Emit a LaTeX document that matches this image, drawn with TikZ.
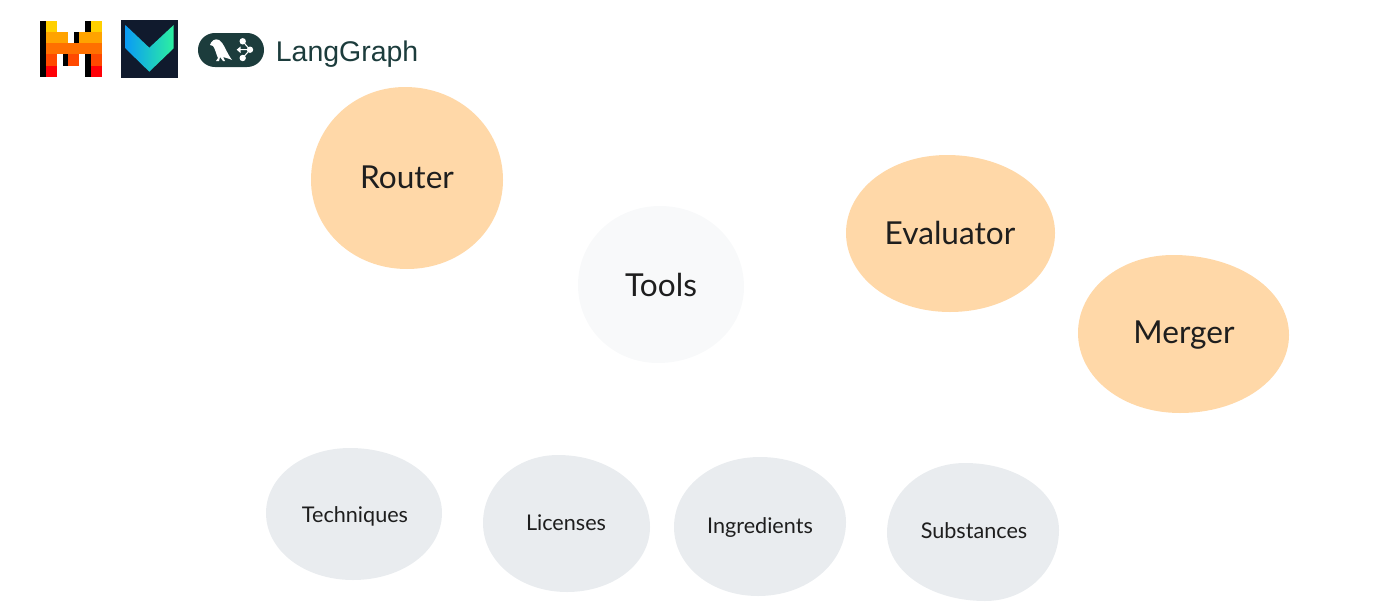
\documentclass[tikz,border=0pt]{standalone}
\usepackage{fontspec}
\setmainfont{Lato}
\newfontfamily\logofont{Liberation Sans}
\usetikzlibrary{calc}
\definecolor{peachFill}{HTML}{FFD8A8}
\definecolor{greyFill}{HTML}{E9ECEF}
\definecolor{toolFill}{HTML}{F8F9FA}
\definecolor{inkText}{HTML}{1E1E1E}
\definecolor{badgeGreen}{HTML}{1C3C3C}
\definecolor{vNavy}{HTML}{101A2D}
\definecolor{vBlue}{HTML}{0A9BF5}
\definecolor{vGreen}{HTML}{2CF0A0}
\definecolor{mYellow}{HTML}{FFD000}
\definecolor{mAmber}{HTML}{FFA300}
\definecolor{mOrange}{HTML}{FF7000}
\definecolor{mDeep}{HTML}{FF4900}
\definecolor{mRed}{HTML}{FF0107}
\newcommand{\blobHandle}{.56}
% fill colour, then the top, left, bottom and right extremes
\newcommand{\blobFill}[5]{
  \coordinate (bT) at (#2);
  \coordinate (bL) at (#3);
  \coordinate (bB) at (#4);
  \coordinate (bR) at (#5);
  \fill[#1] (bT)
    .. controls ($(bT)!\blobHandle!(bT -| bL)$) and ($(bL)!\blobHandle!(bT -| bL)$) .. (bL)
    .. controls ($(bL)!\blobHandle!(bB -| bL)$) and ($(bB)!\blobHandle!(bB -| bL)$) .. (bB)
    .. controls ($(bB)!\blobHandle!(bB -| bR)$) and ($(bR)!\blobHandle!(bB -| bR)$) .. (bR)
    .. controls ($(bR)!\blobHandle!(bT -| bR)$) and ($(bT)!\blobHandle!(bT -| bR)$) .. (bT) -- cycle;
}
\tikzset{
  bigLabel/.style={text=inkText, inner sep=0pt, font=\fontsize{18}{22}\selectfont},
  smallLabel/.style={text=inkText, inner sep=0pt, font=\fontsize{12.3}{15}\selectfont},
  logoLabel/.style={text=badgeGreen, inner sep=0pt, anchor=base west, font=\logofont\fontsize{16.2}{20}\selectfont}
}

\begin{document}
\begin{tikzpicture}[x=.02cm,y=-.02cm]
\useasboundingbox (0,0) rectangle (1378,612);

%pixel logo
\fill[black]   (40.3,21) rectangle (46,76.7);
\fill[mYellow] (46,21) rectangle (57,32.3);
\fill[mYellow] (90.7,21) rectangle (101.7,32.3);
\fill[black]   (85,21) rectangle (90.7,32.3);
\fill[mAmber]  (46,32.3) rectangle (68.3,43.3);
\fill[black]   (74,32.3) rectangle (79.3,43.3);
\fill[mAmber]  (79.3,32.3) rectangle (101.7,43.3);
\fill[mOrange] (46,43.3) rectangle (101.7,54.3);
\fill[mDeep]   (46,54.3) rectangle (57,65.7);
\fill[black]   (62.7,54.3) rectangle (68.3,65.7);
\fill[mDeep]   (68.3,54.3) rectangle (79.3,65.7);
\fill[black]   (85,54.3) rectangle (90.7,76.7);
\fill[mDeep]   (90.7,54.3) rectangle (101.7,65.7);
\fill[mRed]    (46,65.7) rectangle (57,76.7);
\fill[mRed]    (90.7,65.7) rectangle (101.7,76.7);

%chevron logo
\fill[vNavy] (120.7,20) rectangle (178.3,77.7);
\shade[left color=vBlue, right color=vGreen] (125.3,25) -- (149.3,47.7) -- (173.7,25) -- (173.7,48.3) -- (149.3,71.7) -- (125.3,48.3) -- cycle;

%langgraph badge
\fill[badgeGreen, rounded corners=9.6pt] (198,33) rectangle (264,67);
\fill[white] (210,45) .. controls (211,41) and (215,38) .. (219,40) .. controls (224,43) and (226,52) .. (232,60) .. controls (228,58) and (225,58) .. (223,57) -- (225,61) -- (223,61) -- (220,57) -- (219,61) -- (216,61) -- (218,58) .. controls (216,54) and (215,48) .. (213,46) -- cycle;
\fill[white] (242.7,41.3) circle (3.2);
\fill[white] (250,49.7) circle (3.2);
\fill[white] (242.7,58) circle (3.2);
\fill[white] (236.7,49.7) -- (240.5,46.5) -- (240.5,53) -- cycle;
\draw[white, line width=.6pt] (238,49.7) -- (250,49.7) (242.7,41.3) -- (250,49.7) -- (242.7,58);
\node[logoLabel] (langGraphName) at (275.5,61.5) {LangGraph};

%orange blobs
\blobFill{peachFill}{405,87}{311,180}{407,269}{503,180}
\blobFill{peachFill}{947,155}{846,233}{950,312}{1055,233}
\blobFill{peachFill}{1173,255}{1078,333}{1180,413}{1289,335}

%tools blob
\blobFill{toolFill}{660,206}{578,285}{658,363}{744,287}

%grey blobs
\blobFill{greyFill}{350,448}{266,513}{353,580}{442,513}
\blobFill{greyFill}{558,455}{483,523}{567,592}{650,527}
\blobFill{greyFill}{760,457}{674,527}{758,596}{846,522}
\blobFill{greyFill}{965,463}{887,533}{985,601}{1059,530}

%labels
\node[bigLabel]   (router)      at ( 407,177) {Router};
\node[bigLabel]   (tools)       at ( 661,285) {Tools};
\node[bigLabel]   (evaluator)   at ( 950,233) {Evaluator};
\node[bigLabel]   (merger)      at (1184,335) {Merger};
\node[smallLabel] (techniques)  at ( 355,516) {Techniques};
\node[smallLabel] (licenses)    at ( 566,523) {Licenses};
\node[smallLabel] (ingredients) at ( 760,528) {Ingredients};
\node[smallLabel] (substances)  at ( 974,531) {Substances};
\end{tikzpicture}
\end{document}
